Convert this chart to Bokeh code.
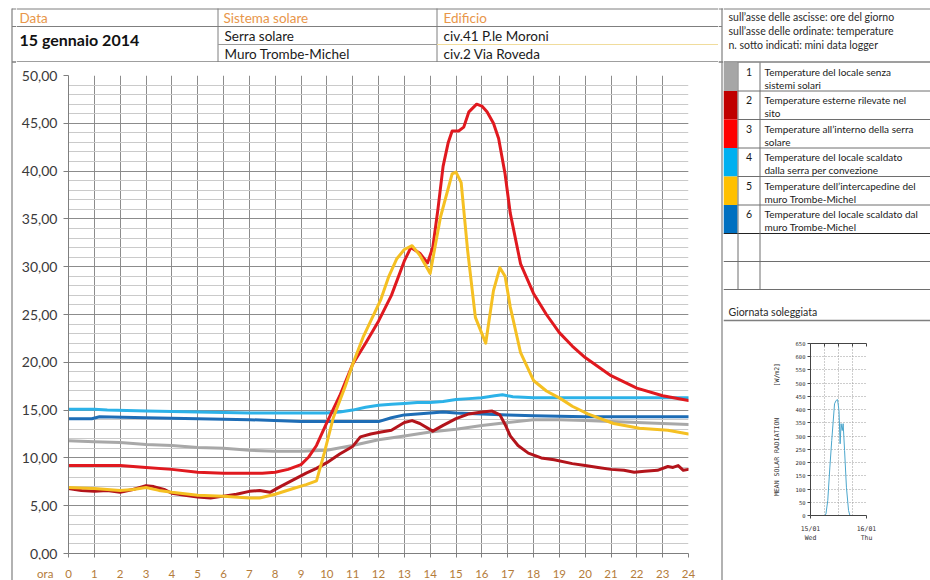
from bokeh.plotting import figure
from bokeh.layouts import row, column
from bokeh.models import FixedTicker, LinearAxis, Range1d
from bokeh.core.properties import value
from bokeh.embed import file_html
from bokeh.resources import INLINE

# ---------------- texts ----------------
header_labels = ["Data", "Sistema solare", "Edificio"]
header_date = "15 gennaio 2014"
header_systems = ["Serra solare", "Muro Trombe-Michel"]
header_buildings = ["civ.41 P.le Moroni", "civ.2 Via Roveda"]

notes = ["sull\u2019asse delle ascisse: ore del giorno",
         "sull\u2019asse delle ordinate: temperature",
         "n. sotto indicati: mini data logger"]

legend_numbers = ["1", "2", "3", "4", "5", "6"]
legend_line1 = ["Temperature del locale senza",
                "Temperature esterne rilevate nel",
                "Temperature all\u2019interno della serra",
                "Temperature del locale scaldato",
                "Temperature dell\u2019intercapedine del",
                "Temperature del locale scaldato dal"]
legend_line2 = ["sistemi solari", "sito", "solare",
                "dalla serra per convezione", "muro Trombe-Michel",
                "muro Trombe-Michel"]
legend_colors = ["#A6A6A6", "#C00000", "#FF0000", "#00B0F0", "#FFC000", "#0070C0"]

inset_title = "Giornata soleggiata"

# ---------------- main chart data ----------------
hour_ticks = list(range(0, 25))
hour_axis_name = "ora"
hour_axis_name_pos = -0.9
temp_ticks = [0, 5, 10, 15, 20, 25, 30, 35, 40, 45, 50]
temp_tick_labels = ["0,00", "5,00", "10,00", "15,00", "20,00", "25,00",
                    "30,00", "35,00", "40,00", "45,00", "50,00"]

# 1 - locale senza sistemi solari (grigio)
s1_h = [0, 1, 2, 3, 4, 5, 6, 7, 8, 9, 10, 11, 12, 13, 14, 15, 16, 17, 18, 19, 20, 21, 22, 23, 24]
s1_t = [11.8, 11.7, 11.6, 11.4, 11.3, 11.1, 11.0, 10.8, 10.7, 10.7, 10.8, 11.3, 11.9, 12.3,
        12.7, 13.0, 13.4, 13.7, 14.0, 14.0, 13.9, 13.8, 13.7, 13.6, 13.5]

# 2 - esterne (rosso scuro)
s2_h = [0, 0.5, 1, 1.5, 2, 2.5, 3, 3.3, 3.7, 4, 4.5, 5, 5.5, 6, 6.5, 7, 7.4, 7.8, 8.2, 8.7,
        9.2, 9.6, 10, 10.5, 11, 11.3, 11.7, 12.1, 12.5, 13, 13.3, 13.6, 14.1, 14.5, 15, 15.5,
        16, 16.4, 16.7, 16.9, 17.1, 17.4, 17.8, 18.3, 18.8, 19.5, 20, 20.5, 21, 21.5, 21.9,
        22.3, 22.8, 23.2, 23.4, 23.6, 23.8, 24]
s2_t = [6.8, 6.6, 6.5, 6.6, 6.4, 6.7, 7.1, 7.0, 6.7, 6.3, 6.1, 5.9, 5.8, 6.0, 6.2, 6.5, 6.6,
        6.4, 7.0, 7.7, 8.4, 8.9, 9.5, 10.4, 11.2, 12.2, 12.5, 12.7, 12.9, 13.7, 13.9, 13.6,
        12.8, 13.4, 14.1, 14.6, 14.8, 14.9, 14.5, 13.5, 12.3, 11.3, 10.5, 10.0, 9.8, 9.4,
        9.2, 9.0, 8.8, 8.7, 8.5, 8.6, 8.7, 9.1, 9.0, 9.2, 8.7, 8.8]

# 3 - interno serra solare (rosso)
s3_h = [0, 1, 2, 2.5, 3, 4, 5, 6, 7, 7.5, 8, 8.5, 9, 9.3, 9.6, 10, 10.5, 11, 11.5, 12, 12.5,
        13, 13.25, 13.6, 13.9, 14.1, 14.3, 14.5, 14.7, 14.85, 15.1, 15.3, 15.5, 15.8, 16.0,
        16.2, 16.45, 16.65, 16.9, 17.1, 17.5, 18, 18.5, 19, 19.5, 20, 21, 22, 23, 24]
s3_t = [9.2, 9.2, 9.2, 9.1, 9.0, 8.8, 8.5, 8.4, 8.4, 8.4, 8.5, 8.8, 9.3, 10.1, 11.3, 13.7,
        16.5, 19.8, 22.0, 24.3, 27.0, 30.6, 32.0, 31.4, 30.4, 32.0, 36.0, 40.5, 43.0, 44.2,
        44.2, 44.6, 46.2, 47.0, 46.8, 46.2, 45.0, 43.4, 39.7, 35.6, 30.3, 27.2, 25.0, 23.1,
        21.7, 20.5, 18.6, 17.3, 16.5, 16.0]

# 4 - locale scaldato dalla serra (azzurro)
s4_h = [0, 1, 1.5, 3, 5, 7, 9, 10, 10.5, 11, 11.5, 12, 12.5, 13, 13.5, 14, 14.5, 15, 15.5,
        16, 16.5, 16.8, 17.2, 18, 20, 22, 24]
s4_t = [15.1, 15.1, 15.0, 14.9, 14.8, 14.7, 14.7, 14.7, 14.8, 15.0, 15.3, 15.5, 15.6, 15.7,
        15.8, 15.8, 15.9, 16.1, 16.2, 16.3, 16.5, 16.6, 16.4, 16.3, 16.3, 16.3, 16.3]

# 5 - intercapedine muro Trombe-Michel (giallo)
s5_h = [0, 1, 2, 2.5, 3, 3.5, 4, 5, 6, 7, 7.4, 8, 8.7, 9.2, 9.6, 9.9, 10.25, 10.7, 11.0, 11.4,
        12.08, 12.4, 12.7, 13.0, 13.3, 13.6, 14.0, 14.4, 14.85, 15.0, 15.2, 15.45, 15.75,
        16.15, 16.45, 16.7, 16.9, 17.1, 17.5, 18.0, 18.5, 19.05, 19.5, 20.1, 21.1, 22.1,
        23.2, 24]
s5_t = [6.9, 6.8, 6.6, 6.7, 6.9, 6.6, 6.4, 6.1, 6.0, 5.8, 5.8, 6.2, 6.8, 7.2, 7.6, 10.5,
        14.2, 17.4, 19.8, 22.6, 26.5, 29.0, 30.8, 31.8, 32.2, 31.2, 29.3, 35.2, 39.7, 39.9,
        38.8, 31.7, 24.7, 22.0, 27.5, 29.9, 29.0, 25.8, 21.0, 18.1, 17.0, 16.2, 15.4, 14.6,
        13.6, 13.1, 12.9, 12.5]

# 6 - locale scaldato dal muro Trombe-Michel (blu)
s6_h = [0, 0.9, 1.2, 3, 5, 7, 9, 10, 11, 12, 12.5, 13, 13.5, 14, 14.5, 15, 16, 17, 18, 20, 22, 24]
s6_t = [14.1, 14.1, 14.3, 14.2, 14.1, 14.0, 13.8, 13.8, 13.8, 13.8, 14.2, 14.5, 14.6, 14.7,
        14.8, 14.7, 14.6, 14.5, 14.4, 14.3, 14.3, 14.3]

# ---------------- inset (solar radiation) ----------------
rad_h = [0, 6.0, 6.6, 7.4, 8.3, 9.1, 10.3, 11.0, 11.6, 12.2, 12.7, 13.1, 13.6, 14.0, 14.6,
         15.4, 16.3, 16.9, 24]
rad_v = [0, 0, 5, 57, 183, 283, 422, 435, 438, 397, 271, 347, 321, 347, 246, 107, 19, 0, 0]
rad_ticks = list(range(0, 651, 50))
rad_x_ticks = [0, 24]
rad_x_labels = ["15/01\nWed", "16/01\nThu"]

FONT = "Lato"
MONO = "DejaVu Sans Mono"
GRID = "#8C8C8C"
LINE = "#7F7F7F"
BROWN = "#B47C3A"

MAIN_W, MAIN_LEFT, MAIN_RIGHT = 702, 52, 30


def deco(w, h, x0, x1, y0, y1):
    p = figure(width=w, height=h, x_range=Range1d(x0, x1), y_range=Range1d(y1, y0),
               toolbar_location=None, output_backend="svg",
               x_axis_location=None, y_axis_location=None, min_border=0)
    p.frame_align = False
    p.grid.visible = False
    p.outline_line_color = None
    p.background_fill_color = "white"
    p.border_fill_color = "white"
    return p


def txt(p, x, y, t, size, color="#1A1A1A", align="left", style="normal", font=FONT):
    p.text(x=x, y=y, text=t, text_font=value(font), text_font_size=value(size),
           text_color=color, text_align=align, text_baseline="middle",
           text_font_style=style)


# ---------- left strip (outer border) ----------
strip_a = deco(16, 580, 0, 16, 0, 580)
strip_a.segment(x0=[11.5, 11.5, 11.5, 11.5], y0=[8, 8.5, 26, 61.5],
                x1=[11.5, 16, 16, 16], y1=[580, 8.5, 26, 61.5],
                line_color=LINE, line_width=[1.2, 1, 1, 1.5])

# ---------- header ----------
header = deco(702, 62, 16, 718, 0, 62)
header.segment(x0=[16, 16, 16, 217.5, 436.5], y0=[8.5, 26, 61.5, 8, 8],
               x1=[718, 718, 718, 217.5, 436.5], y1=[8.5, 26, 61.5, 62, 62],
               line_color=LINE, line_width=[1, 1, 1.5, 1, 1])
header.segment(x0=[217.5], y0=[44], x1=[436.5], y1=[44], line_color="#9A9A9A", line_width=1)
header.segment(x0=[436.5], y0=[44], x1=[718], y1=[44], line_color="#F0DC9C", line_width=1.2)
txt(header, [19, 223, 443], [17, 17, 17], header_labels, "13.5px", color="#E8964A")
txt(header, [19], [39], [header_date], "16px", color="#111111", style="bold")
txt(header, [224, 224], [35, 53], header_systems, "13.5px")
txt(header, [443, 443], [35, 53], header_buildings, "13.5px")

# ---------- main chart ----------
main = figure(width=MAIN_W, height=498, x_range=Range1d(0, 24), y_range=Range1d(0, 50),
              toolbar_location=None, output_backend="svg",
              min_border_left=MAIN_LEFT, min_border_right=MAIN_RIGHT,
              min_border_top=13, min_border_bottom=7)
main.frame_align = False
main.outline_line_color = None
main.background_fill_color = "white"
main.border_fill_color = "white"

main.xaxis.ticker = FixedTicker(ticks=hour_ticks)
main.yaxis.ticker = FixedTicker(ticks=temp_ticks)
main.yaxis.major_label_overrides = dict(zip(temp_ticks, temp_tick_labels))
for ax in (main.xaxis[0], main.yaxis[0]):
    ax.axis_line_color = LINE
    ax.major_tick_line_color = LINE
    ax.major_tick_in = 0
    ax.minor_tick_line_color = None
    ax.major_label_text_font = FONT
main.yaxis.major_tick_out = 5
main.yaxis.major_label_text_font_size = "14px"
main.yaxis.major_label_text_color = "#3A3A3A"
main.yaxis.major_label_standoff = 6
main.xaxis.major_tick_out = 4
main.xaxis.major_label_text_color = None      # hour labels drawn in the strip below
main.xaxis.major_label_text_font_size = "1px"
main.xaxis.major_label_standoff = 0

main.xgrid.ticker = FixedTicker(ticks=hour_ticks)
main.xgrid.grid_line_color = GRID
main.xgrid.grid_line_width = 1
main.ygrid.ticker = FixedTicker(ticks=temp_ticks, minor_ticks=list(range(0, 51)))
main.ygrid.grid_line_color = GRID
main.ygrid.minor_grid_line_color = "#CACACA"

series = [
    (s1_h, s1_t, "#A8A8A8"),
    (s6_h, s6_t, "#1E6DB6"),
    (s4_h, s4_t, "#2CB2E8"),
    (s2_h, s2_t, "#B3141B"),
    (s3_h, s3_t, "#E0191F"),
    (s5_h, s5_t, "#F5C022"),
]
for hs, ts, c in series:
    main.line(hs, ts, line_color=c, line_width=3, line_join="round", line_cap="round")

# hour labels strip, on the same horizontal scale as the chart
pph = (MAIN_W - MAIN_LEFT - MAIN_RIGHT) / 24.0
hours_strip = figure(width=MAIN_W, height=20,
                     x_range=Range1d(0 - MAIN_LEFT / pph, 24 + MAIN_RIGHT / pph),
                     y_range=Range1d(20, 0), toolbar_location=None, output_backend="svg",
                     x_axis_location=None, y_axis_location=None, min_border=0)
hours_strip.frame_align = False
hours_strip.grid.visible = False
hours_strip.outline_line_color = None
hours_strip.border_fill_color = "white"
hours_strip.background_fill_color = "white"
hours_strip.text(x=[hour_axis_name_pos] + hour_ticks, y=13,
                 text=[hour_axis_name] + [str(h) for h in hour_ticks],
                 text_font=value(FONT), text_font_size=value("11.5px"), text_color=BROWN,
                 text_align="center", text_baseline="middle")

# ---------- middle strip (panel border) ----------
strip_b = deco(5, 580, 718, 723, 0, 580)
strip_b.segment(x0=[721.5, 718, 718, 718], y0=[8, 8.5, 26, 61.5],
                x1=[721.5, 723, 721.5, 723], y1=[580, 8.5, 26, 61.5],
                line_color=LINE, line_width=[1.2, 1, 1, 1.5])

# ---------- right panel ----------
rt = deco(207, 330, 723, 930, 0, 330)
rt.segment(x0=[723], y0=[8.5], x1=[930], y1=[8.5], line_color=LINE, line_width=1)
txt(rt, [728, 728, 728], [16, 30, 44], notes, "10.5px", color="#2A2A2A")
rt.segment(x0=[723], y0=[61.5], x1=[930], y1=[61.5], line_color=LINE, line_width=1.5)

row_h = 28.5
tops = [62 + row_h * k for k in range(6)]
bots = [t + row_h for t in tops]
rt.quad(left=723, right=737, top=tops, bottom=bots, fill_color=legend_colors, line_color=None)
bounds = bots[:-1]
rt.segment(x0=[737] * len(bounds), y0=bounds, x1=[930] * len(bounds), y1=bounds,
           line_color="#6E6E6E", line_width=1)
end6 = bots[-1]
extra = [end6 + 28, end6 + 56]
rt.segment(x0=[723, 723, 723], y0=[end6, extra[0], extra[1]], x1=[930, 930, 930],
           y1=[end6, extra[0], extra[1]], line_color=["#222222", "#6E6E6E", "#6E6E6E"],
           line_width=[1.2, 1, 1])
rt.segment(x0=[737.5, 759.5], y0=[62, 62], x1=[737.5, 759.5], y1=[extra[1], extra[1]],
           line_color="#6E6E6E", line_width=1)
txt(rt, [748.5] * 6, [t + 9 for t in tops], legend_numbers, "10.5px", align="center")
txt(rt, [764] * 6, [t + 9 for t in tops], legend_line1, "10px")
txt(rt, [764] * 6, [t + 22 for t in tops], legend_line2, "10px")

txt(rt, [728], [311], [inset_title], "10.5px", color="#2A2A2A")
rt.segment(x0=[723], y0=[320], x1=[930], y1=[320], line_color=LINE, line_width=1.5)

# ---------- inset chart ----------
ins = figure(width=207, height=250, x_range=Range1d(0, 24), y_range=Range1d(0, 650),
             toolbar_location=None, output_backend="svg",
             min_border_left=87, min_border_right=64, min_border_top=13, min_border_bottom=65)
ins.frame_align = False
ins.outline_line_color = None
ins.background_fill_color = "white"
ins.border_fill_color = "white"
ins.yaxis.ticker = FixedTicker(ticks=rad_ticks)
ins.xaxis.ticker = FixedTicker(ticks=rad_x_ticks)
ins.xaxis.major_label_overrides = dict(zip(rad_x_ticks, rad_x_labels))
for ax in (ins.xaxis[0], ins.yaxis[0]):
    ax.axis_line_color = "#444444"
    ax.major_tick_line_color = "#444444"
    ax.major_tick_in = 0
    ax.major_tick_out = 3
    ax.minor_tick_line_color = None
    ax.major_label_text_font = MONO
    ax.major_label_text_color = "#333333"
ins.yaxis.major_label_text_font_size = "5.5px"
ins.yaxis.major_label_standoff = 2
ins.yaxis.axis_label = "MEAN SOLAR RADIATION" + "\u00a0" * 8 + "[W/m2]"
ins.yaxis.axis_label_text_font = MONO
ins.yaxis.axis_label_text_font_size = "6.5px"
ins.yaxis.axis_label_text_font_style = "normal"
ins.yaxis.axis_label_text_color = "#333333"
ins.yaxis.axis_label_standoff = 12
ins.xaxis.major_label_text_font_size = "6.5px"
ins.xaxis.major_label_standoff = 6

top_axis = LinearAxis(ticker=FixedTicker(ticks=[0, 6, 12, 18, 24]),
                      axis_line_color="#444444", major_tick_line_color="#444444",
                      major_tick_in=3, major_tick_out=0, minor_tick_line_color=None,
                      major_label_text_color=None, major_label_text_font_size="1px")
ins.add_layout(top_axis, "above")

ins.xgrid.ticker = FixedTicker(ticks=[6, 12, 18, 24])
ins.xgrid.grid_line_color = "#9A9A9A"
ins.xgrid.grid_line_dash = "1 2"
ins.ygrid.ticker = FixedTicker(ticks=rad_ticks[1:])
ins.ygrid.grid_line_color = "#9A9A9A"
ins.ygrid.grid_line_dash = "1 2"
ins.line(rad_h, rad_v, line_color="#4BA6CC", line_width=1)

page = row(strip_a, column(header, main, hours_strip), strip_b, column(rt, ins))
open("out.html", "w").write(file_html(page, INLINE))
